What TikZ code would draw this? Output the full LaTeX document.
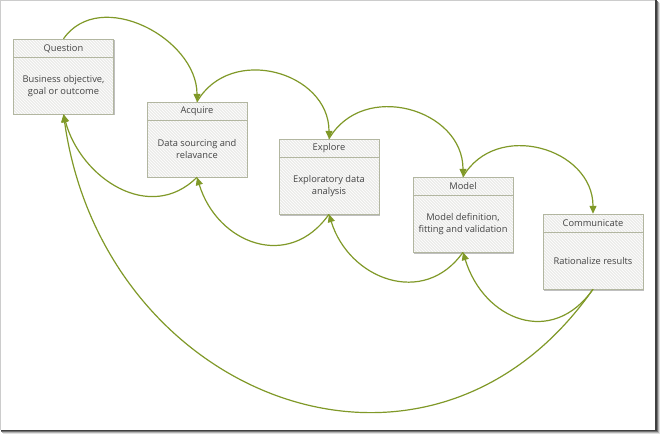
\documentclass[tikz,border=0pt]{standalone}
\usepackage{fontspec}
\setmainfont{Open Sans}
\usetikzlibrary{arrows.meta,shadows,patterns}
\definecolor{flowgreen}{RGB}{128,153,40}
\definecolor{boxline}{RGB}{178,182,160}
\definecolor{boxfill}{RGB}{236,236,234}
\definecolor{txt}{RGB}{68,68,68}
\tikzset{
  stage/.style={fill=boxfill, minimum width=100pt, minimum height=75pt, inner sep=0pt,
    drop shadow={shadow xshift=1.2pt, shadow yshift=-1.5pt, opacity=0.25, fill=black},
    postaction={pattern=north west lines, pattern color=white},
    postaction={draw=boxline, line width=0.8pt}},
  stagetitle/.style={anchor=north, minimum height=19pt, inner sep=0pt, text=txt},
  stagetext/.style={align=center, inner sep=0pt, text=txt},
  flow/.style={flowgreen, line width=1.2pt, -{Triangle[length=8pt,width=7pt]}},
}
\begin{document}
\begin{tikzpicture}[x=1pt, y=1pt, font=\fontsize{9.3}{12.3}\selectfont]
      \useasboundingbox (0,0) rectangle (660,434);
      %
      \fill[black!12] (3,0) rectangle (660,431);
      \fill[black!30] (2,1) rectangle (659,432);
      \fill[black!55] (1,2) rectangle (657.5,433);
      \fill[black!75] (0.5,3) rectangle (656.5,433.5);
      \fill[white] (0.5,4) rectangle (655,433.5);
      \draw[black!20] (0.5,4) -- (0.5,433.5) -- (655,433.5);
      %
      \node[stage] (question) at (63.5,357.5) {};
      \node[stage] (acquire) at (197,294.5) {};
      \node[stage] (explore) at (329,257.5) {};
      \node[stage] (model) at (463,219.5) {};
      \node[stage] (communicate) at (593,182.5) {};
      %
      \draw[boxline, line width=0.8pt] ([yshift=-19pt]question.north west) -- ([yshift=-19pt]question.north east);
      \draw[boxline, line width=0.8pt] ([yshift=-19pt]acquire.north west) -- ([yshift=-19pt]acquire.north east);
      \draw[boxline, line width=0.8pt] ([yshift=-19pt]explore.north west) -- ([yshift=-19pt]explore.north east);
      \draw[boxline, line width=0.8pt] ([yshift=-19pt]model.north west) -- ([yshift=-19pt]model.north east);
      \draw[boxline, line width=0.8pt] ([yshift=-19pt]communicate.north west) -- ([yshift=-19pt]communicate.north east);
      %
      \node[stagetitle] (question-t) at (question.north) {Question};
      \node[stagetitle] (acquire-t) at (acquire.north) {Acquire};
      \node[stagetitle] (explore-t) at (explore.north) {Explore};
      \node[stagetitle] (model-t) at (model.north) {Model};
      \node[stagetitle] (communicate-t) at (communicate.north) {Communicate};
      %
      \node[stagetext] (question-b) at ([yshift=-9.5pt]question.center) {Business objective,\\goal or outcome};
      \node[stagetext] (acquire-b) at ([yshift=-9.5pt]acquire.center) {Data sourcing and\\relavance};
      \node[stagetext] (explore-b) at ([yshift=-9.5pt]explore.center) {Exploratory data\\analysis};
      \node[stagetext] (model-b) at ([yshift=-9.5pt]model.center) {Model definition,\\fitting and validation};
      \node[stagetext] (communicate-b) at ([yshift=-9.5pt]communicate.center) {Rationalize results};
      %
      \draw[flow] (question.north) to[out=55, in=90, looseness=1.1] (acquire.north);
      \draw[flow] (acquire.north) to[out=60, in=90, looseness=1.25] (explore.north);
      \draw[flow] (explore.north) to[out=60, in=90, looseness=1.25] (model.north);
      \draw[flow] (model.north) to[out=60, in=90, looseness=1.25] (communicate.north);
      %
      \draw[flow] (acquire.south) to[out=-135, in=-75, looseness=1.15] (question.south);
      \draw[flow] (explore.south) to[out=-125, in=-73, looseness=1.3] (acquire.south);
      \draw[flow] (model.south) to[out=-125, in=-73, looseness=1.25] (explore.south);
      \draw[flow] (communicate.south) to[out=-125, in=-73, looseness=1.35] (model.south);
      \draw[flow] (communicate.south) to[out=-125, in=-82, looseness=1.32] (question.south);
      %
    \end{tikzpicture}
\end{document}
